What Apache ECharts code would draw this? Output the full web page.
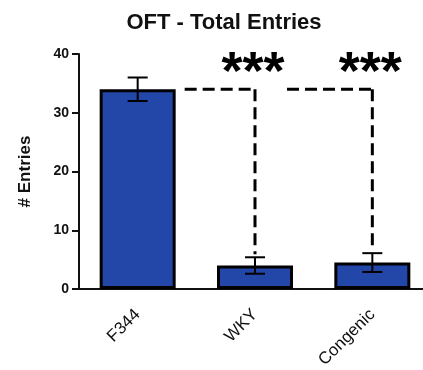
<!DOCTYPE html>
<html>
<head>
<meta charset="utf-8">
<script src="https://cdn.jsdelivr.net/npm/echarts@6/dist/echarts.min.js"></script>
<style>
  html, body { margin: 0; padding: 0; background: #fff; }
  #chart { width: 423px; height: 370px; }
</style>
</head>
<body>
<div id="chart"></div>
<script>
// Open field test: total entries per strain (mean ± SEM)
const categories = ['F344', 'WKY', 'Congenic'];
const means = [34.0, 4.0, 4.5];
const sems = [2.0, 1.4, 1.6];
const yTicks = [0, 10, 20, 30, 40];

// Comparisons against F344, drawn as dashed brackets with stars
const sigFrom = [0, 0];
const sigTo = [1, 2];
const sigLabels = ['***', '***'];

const FONT = 'Liberation Sans, Arial, Helvetica, sans-serif';
const BAR_COLOR = '#2347a8';

const errorData = categories.map((c, i) => [i, means[i] - sems[i], means[i] + sems[i]]);
const sigData = sigFrom.map((f, k) => [f, sigTo[k], means[f], means[sigTo[k]] + sems[sigTo[k]], k]);

const chart = echarts.init(document.getElementById('chart'), null, { renderer: 'canvas' });

chart.setOption({
  animation: false,
  title: {
    text: 'OFT - Total Entries',
    left: 219,
    textAlign: 'center',
    top: 7,
    textStyle: { fontFamily: FONT, fontSize: 22, fontWeight: 'bold', color: '#111' }
  },
  grid: { left: 79, top: 54, width: 352, height: 235, containLabel: false, outerBoundsMode: 'none' },
  xAxis: {
    type: 'category',
    data: categories,
    boundaryGap: true,
    axisLine: { lineStyle: { color: '#111', width: 2 } },
    axisTick: { alignWithLabel: true, length: 7, lineStyle: { color: '#111', width: 2 } },
    axisLabel: {
      rotate: 45,
      margin: 23,
      fontFamily: FONT,
      fontSize: 17,
      color: '#111'
    },
    splitLine: { show: false }
  },
  yAxis: {
    type: 'value',
    min: yTicks[0],
    max: yTicks[yTicks.length - 1],
    interval: 10,
    name: '# Entries',
    nameLocation: 'middle',
    nameGap: 45,
    nameRotate: 90,
    nameTextStyle: { fontFamily: FONT, fontSize: 17, fontWeight: 'bold', color: '#111' },
    axisLine: { show: true, lineStyle: { color: '#111', width: 2 } },
    axisTick: { show: true, length: 7, lineStyle: { color: '#111', width: 2 } },
    axisLabel: { margin: 10, fontFamily: FONT, fontSize: 14, fontWeight: 'bold', color: '#111' },
    splitLine: { show: false }
  },
  series: [
    {
      type: 'bar',
      data: means,
      barWidth: 76,
      itemStyle: { color: BAR_COLOR, borderColor: '#000', borderWidth: 3 },
      z: 2
    },
    {
      type: 'custom',
      data: errorData,
      z: 3,
      renderItem: function (params, api) {
        const x = api.coord([api.value(0), 0])[0];
        const lo = api.coord([api.value(0), api.value(1)])[1];
        const hi = api.coord([api.value(0), api.value(2)])[1];
        const cap = 10;
        const style = { stroke: '#000', lineWidth: 2 };
        return {
          type: 'group',
          children: [
            { type: 'line', shape: { x1: x, y1: lo, x2: x, y2: hi }, style: style },
            { type: 'line', shape: { x1: x - cap, y1: hi, x2: x + cap, y2: hi }, style: style },
            { type: 'line', shape: { x1: x - cap, y1: lo, x2: x + cap, y2: lo }, style: style }
          ]
        };
      }
    },
    {
      type: 'custom',
      data: sigData,
      z: 4,
      renderItem: function (params, api) {
        const from = api.value(0), to = api.value(1), k = api.value(4);
        const yLevel = api.coord([to, api.value(2)])[1];
        const yEnd = api.coord([to, api.value(3)])[1] - 3;
        const xTo = api.coord([to, 0])[0];
        let xStart;
        if (k === 0) {
          xStart = api.coord([from, 0])[0] + 47;
        } else {
          const prevTo = sigTo[k - 1];
          xStart = api.coord([prevTo, 0])[0] + 32;
        }
        const dash = { stroke: '#000', lineWidth: 3, lineDash: [12, 6] };
        return {
          type: 'group',
          children: [
            { type: 'line', shape: { x1: xStart, y1: yLevel, x2: xTo, y2: yLevel }, style: dash },
            { type: 'line', shape: { x1: xTo, y1: yLevel, x2: xTo, y2: yEnd }, style: dash },
            {
              type: 'text',
              x: xTo - 2,
              y: yLevel + 12,
              style: {
                text: sigLabels[k],
                fontFamily: FONT,
                fontSize: 54,
                fontWeight: 'bold',
                fill: '#000',
                align: 'center',
                verticalAlign: 'bottom'
              }
            }
          ]
        };
      }
    }
  ]
});
</script>
</body>
</html>
